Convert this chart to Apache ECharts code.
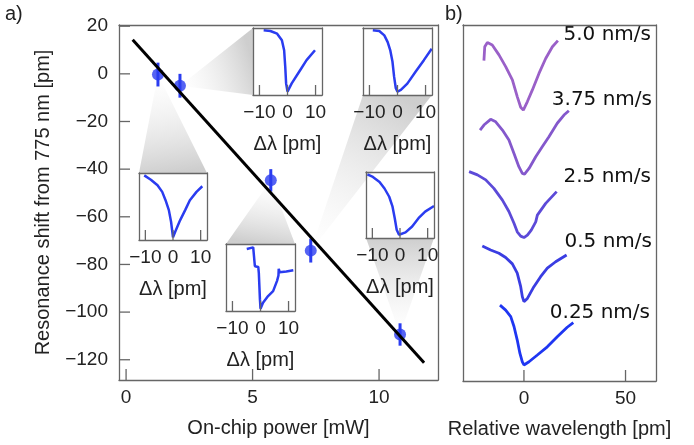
<!DOCTYPE html>
<html><head><meta charset="utf-8">
<script src="https://cdn.jsdelivr.net/npm/echarts@6/dist/echarts.min.js"></script>
<style>html,body{margin:0;padding:0;background:#fff}#c{width:694px;height:445px}</style>
</head><body><div id="c"></div>
<script>
// ---- Panel a data ----
const power = [1.26, 2.13, 5.72, 7.3, 10.83];
const shift = [-0.3, -5, -44.7, -74.2, -109.4];
const shiftErr = [5, 5, 4.7, 5, 4.7];
const fitPower = [0.26, 11.78];
const fitShift = [14.3, -121.3];
const xTicksA = [0, 5, 10];
const yTicksA = [-120, -100, -80, -60, -40, -20, 0, 20];
const insetTicks = [-10, 0, 10];

// inset dips (normalized transmission) for each power
const dip1_dl = [-10.4,-8,-5.6,-3.9,-2.7,-1.5,-0.7,0,0.8,2.6,4.4,6.1,8.5,10.6];
const dip1_T  = [0.965,0.9,0.817,0.718,0.594,0.446,0.272,0.04,0.124,0.297,0.446,0.594,0.718,0.802];
const dip2_dl = [-8.5,-6.1,-3.7,-2.0,-1.2,-0.8,-0.5,0,1.5,4.5,6.8,9.8];
const dip2_T  = [0.965,0.955,0.915,0.817,0.668,0.42,0.173,0.05,0.173,0.37,0.52,0.668];
const dip3_dl = [-4.9,-2.6,-2.2,-2.0,-0.8,-0.6,-0.2,0,0.9,2.7,4.5,5.9,6.4,6.5,6.8,9.2,11.7];
const dip3_T  = [0.926,0.95,0.94,0.668,0.658,0.57,0.173,0.035,0.124,0.223,0.297,0.45,0.53,0.629,0.58,0.589,0.609];
const dip4_dl = [-8.8,-6.5,-4.7,-3.5,-2.6,-1.8,-1.2,-0.6,0,1.2,3.5,6.5,9.4,12.2];
const dip4_T  = [0.965,0.955,0.89,0.79,0.67,0.5,0.27,0.1,0.05,0.075,0.17,0.35,0.52,0.69];
const dip5_dl = [-11.8,-9.8,-7.4,-5.6,-3.9,-2.7,-1.9,-1.2,-0.35,0.2,2,4.4,6.7,9.1,12.3];
const dip5_T  = [0.965,0.925,0.85,0.75,0.625,0.475,0.3,0.125,0.05,0.035,0.085,0.175,0.3,0.4,0.485];

// ---- Panel b data ----
const scanLabels = ['5.0 nm/s','3.75 nm/s','2.5 nm/s','0.5 nm/s','0.25 nm/s'];
const scan50_x = [-19.7,-19.3,-18.0,-15.6,-12.3,-9.0,-5.7,-3.3,-1.6,-0.3,1.7,4.1,7.4,10.7,14.0,16.7];
const scan50_y = [90.0,93.9,95.1,94.4,91.6,88.3,84.6,79.9,76.9,76.1,78.5,81.7,86.4,90.6,93.9,95.6];
const scan375_x = [-21.6,-19.7,-16.4,-13.9,-10.6,-7.4,-4.9,-2.5,-0.8,0.3,2.5,5.8,9.0,12.3,16.4,19.7,22.1];
const scan375_y = [70.5,71.9,73.5,72.8,70.5,67.7,63.9,60.2,58.3,58.1,59.7,63.0,65.8,68.6,72.4,74.7,75.9];
const scan25_x = [-27.0,-22.9,-18.8,-14.8,-10.6,-7.4,-4.9,-3.3,-1.6,0,1.7,3.6,5.8,6.6,10.7,16.1];
const scan25_y = [58.8,57.9,56.5,54.1,50.8,47.6,44.3,41.9,40.7,40.3,41.0,42.4,44.7,46.6,49.9,53.2];
const scan05_x = [-20.5,-16.4,-12.3,-9.0,-5.7,-3.3,-1.6,-0.8,0,1.7,4.9,8.2,11.5,15.6,21.0];
const scan05_y = [37.9,36.8,35.9,34.7,32.9,30.3,26.5,23.7,22.3,23.2,26.5,29.3,31.7,33.5,35.4];
const scan025_x = [-11.8,-9.0,-6.5,-4.9,-3.3,-2.0,-0.8,0,2.5,6.6,11.5,16.4,21.3,24.3];
const scan025_y = [21.3,19.9,18.1,15.3,11.5,7.8,5.4,4.5,5.4,7.3,9.6,12.4,15.1,16.4];
const xTicksB = [0, 50];

// ---- styling / layout ----
const BLUE = '#2a3cf0';
const SCAN_COLORS = ['#9a60c8','#8458cc','#5c4ad8','#3a3de2','#1f36f2'];
const FRAME = '#666';
const TXT = '#222';
const FONT = 'Liberation Sans, Arial, sans-serif';
const minus = v => String(v).replace('-', '\u2212');

const insetBoxes = [
  {left:139, top:173, width:68, height:67, edge:'top'},
  {left:253, top:28, width:69, height:67, edge:'left'},
  {left:226, top:244, width:69, height:67, edge:'top'},
  {left:363, top:28, width:69, height:67, edge:'bottom'},
  {left:366, top:172, width:68, height:66, edge:'bottom'}
];
const dips = [[dip1_dl,dip1_T],[dip2_dl,dip2_T],[dip3_dl,dip3_T],[dip4_dl,dip4_T],[dip5_dl,dip5_T]];
const scans = [[scan50_x,scan50_y],[scan375_x,scan375_y],[scan25_x,scan25_y],[scan05_x,scan05_y],[scan025_x,scan025_y]];
const scanLabelPos = [[651,35],[652,100],[651,177],[652,242],[650,313]];

const grids = [
  {left:119, top:25, width:319, height:355},
  {left:463, top:25, width:193, height:356}
];
insetBoxes.forEach(b => grids.push({left:b.left, top:b.top, width:b.width, height:b.height}));

function tickAxis(gi, min, max, ticks, pos, extra) {
  return Object.assign({gridIndex:gi, type:'value', min, max, position:pos, z:10,
    axisLine:{show:true, onZero:false, lineStyle:{color:FRAME, width:1.3}},
    splitLine:{show:false},
    axisTick:{show:false},
    axisLabel:{show:true, customValues:ticks, fontSize:19, color:TXT, margin:8, fontFamily:FONT, formatter:minus}}, extra||{});
}
function frameAxis(gi, min, max, pos) {
  return {gridIndex:gi, type:'value', min, max, position:pos, z:10,
    axisLine:{show:true, onZero:false, lineStyle:{color:FRAME, width:1.3}}, axisTick:{show:false}, axisLabel:{show:false}, splitLine:{show:false}};
}
const nameStyle = {fontSize:20, color:TXT, fontFamily:FONT};
const xAxes = [
  tickAxis(0, -0.28, 12.33, xTicksA, 'bottom', {name:'On-chip power [mW]', nameLocation:'middle', nameGap:38, nameTextStyle:nameStyle}),
  frameAxis(0, -0.28, 12.33, 'top'),
  tickAxis(1, -30, 65, xTicksB, 'bottom', {name:'Relative wavelength [pm]', nameLocation:'middle', nameGap:38, nameTextStyle:nameStyle}),
  frameAxis(1, -30, 65, 'top')
];
const yAxes = [
  tickAxis(0, -128.5, 20.5, yTicksA, 'left', {name:'Resonance shift from 775 nm [pm]', nameLocation:'middle', nameGap:66, nameTextStyle:nameStyle}),
  frameAxis(0, -128.5, 20.5, 'right'),
  frameAxis(1, 0, 100, 'left'),
  frameAxis(1, 0, 100, 'right')
];
yAxes[0].axisLabel.margin = 11;
insetBoxes.forEach((b,i) => {
  xAxes.push(tickAxis(2+i, -12.3, 12.3, insetTicks, 'bottom', {name:'\u0394\u03bb [pm]', nameLocation:'middle', nameGap:39, nameTextStyle:nameStyle}));
  xAxes.push(frameAxis(2+i, -12.3, 12.3, 'top'));
  yAxes.push(frameAxis(2+i, 0, 1, 'left'));
  yAxes.push(frameAxis(2+i, 0, 1, 'right'));
});
const xIdx = g => g*2, yIdx = g => g*2;

const series = [
  {type:'custom', xAxisIndex:0, yAxisIndex:0, z:1, silent:true,
   data: power.map((p,i)=>[p, shift[i]]),
   renderItem: (params, api) => {
     const i = params.dataIndex;
     const pt = api.coord([api.value(0), api.value(1)]);
     const b = insetBoxes[i];
     let c1, c2;
     if (b.edge === 'top') { c1=[b.left,b.top]; c2=[b.left+b.width,b.top]; }
     else if (b.edge === 'bottom') { c1=[b.left,b.top+b.height]; c2=[b.left+b.width,b.top+b.height]; }
     else { c1=[b.left,b.top]; c2=[b.left,b.top+b.height]; }
     const mid = [(c1[0]+c2[0])/2, (c1[1]+c2[1])/2];
     return {type:'polygon', shape:{points:[pt,c1,c2]},
       style:{fill:new echarts.graphic.LinearGradient(mid[0],mid[1],pt[0],pt[1],
         [{offset:0,color:'rgba(185,185,185,0.7)'},{offset:1,color:'rgba(230,230,230,0)'}], true)}};
   }},
  {type:'custom', xAxisIndex:0, yAxisIndex:0, z:3, silent:true,
   data: power.map((p,i)=>[p, shift[i]-shiftErr[i], shift[i]+shiftErr[i]]),
   renderItem: (params, api) => {
     const lo = api.coord([api.value(0), api.value(1)]);
     const hi = api.coord([api.value(0), api.value(2)]);
     return {type:'line', shape:{x1:lo[0],y1:lo[1],x2:hi[0],y2:hi[1]}, style:{stroke:BLUE, lineWidth:3}};
   }},
  {type:'scatter', xAxisIndex:0, yAxisIndex:0, z:4, symbolSize:12, itemStyle:{color:BLUE},
   data: power.map((p,i)=>[p, shift[i]])},
  {type:'line', xAxisIndex:0, yAxisIndex:0, z:5, symbol:'none', lineStyle:{color:'#000', width:3},
   data: fitPower.map((p,i)=>[p, fitShift[i]])}
];
dips.forEach((d,i) => series.push({type:'line', xAxisIndex:xIdx(2+i), yAxisIndex:yIdx(2+i), z:7, symbol:'none',
  lineStyle:{color:BLUE, width:2.5}, data:d[0].map((x,j)=>[x, d[1][j]])}));
scans.forEach((s,i) => series.push({type:'line', xAxisIndex:2, yAxisIndex:2, z:3, symbol:'none',
  lineStyle:{color:SCAN_COLORS[i], width:2.8}, data:s[0].map((x,j)=>[x, s[1][j]])}));

const graphic = [
  {type:'text', left:5, top:4, style:{text:'a)', fontSize:20, fill:TXT, fontFamily:FONT}},
  {type:'text', left:445, top:4, style:{text:'b)', fontSize:20, fill:TXT, fontFamily:FONT}}
];
scanLabels.forEach((t,i) => graphic.push({type:'text', x:scanLabelPos[i][0], y:scanLabelPos[i][1], z:10,
  style:{text:t, fontSize:20, fill:'#111', fontFamily:'DejaVu Sans', align:'right', verticalAlign:'middle'}}));

const chart = echarts.init(document.getElementById('c'), null, {renderer:'canvas'});
chart.setOption({animation:false, backgroundColor:'#fff', grid:grids, xAxis:xAxes, yAxis:yAxes, series, graphic});

// inward tick marks, placed through the axes' own scales
const tickMarks = [];
function addXTicks(gi, values, yBottom, len) {
  values.forEach(v => {
    const p = chart.convertToPixel({xAxisIndex:xIdx(gi), yAxisIndex:yIdx(gi)}, [v, yBottom]);
    tickMarks.push({type:'line', z:100, shape:{x1:p[0], y1:p[1], x2:p[0], y2:p[1]-len}, style:{stroke:FRAME, lineWidth:1.3}});
  });
}
function addYTicks(gi, values, xLeft, len) {
  values.forEach(v => {
    const p = chart.convertToPixel({xAxisIndex:xIdx(gi), yAxisIndex:yIdx(gi)}, [xLeft, v]);
    tickMarks.push({type:'line', z:100, shape:{x1:p[0], y1:p[1], x2:p[0]+len, y2:p[1]}, style:{stroke:FRAME, lineWidth:1.3}});
  });
}
addXTicks(0, xTicksA, -128.5, 11);
addYTicks(0, yTicksA, -0.28, 11);
addXTicks(1, xTicksB, 0, 11);
insetBoxes.forEach((b,i) => addXTicks(2+i, insetTicks, 0, 10));
chart.setOption({graphic: graphic.concat(tickMarks)});
</script></body></html>
